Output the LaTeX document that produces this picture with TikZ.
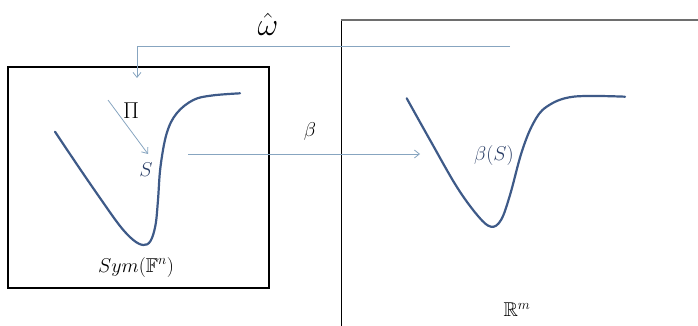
\RequirePackage{fix-cm}
\documentclass[tikz,border=0pt]{standalone}
\usepackage{amssymb}
\usetikzlibrary{arrows.meta}
\definecolor{curveblue}{RGB}{62,90,136}
\definecolor{arrowblue}{RGB}{135,165,192}
\definecolor{labelblue}{RGB}{42,62,102}
\definecolor{framegray}{RGB}{110,110,110}
\tikzset{
  curve/.style={line width=2.2pt, curveblue, line cap=round},
  conn/.style={line width=0.8pt, arrowblue, -{Straight Barb[length=5pt,width=8pt]}},
  lbl/.style={inner sep=0pt, font=\fontsize{20}{24}\selectfont},
}
\begin{document}
\begin{tikzpicture}[x=1pt,y=-1pt]
\useasboundingbox (0,0) rectangle (698,326);
% left box
\node[draw=black, line width=2.2pt, minimum width=261pt, minimum height=221pt, inner sep=0pt, anchor=north west] (box) at (7,66) {};
% right frame (cut off)
\coordinate (fTL) at (341,20);
\coordinate (fBL) at (341,326);
\coordinate (fTR) at (698,20);
\draw[line width=1pt, black] (fBL) -- (fTL);
\draw[line width=1.4pt, framegray] (fTL) -- (fTR);
% curves
\draw[curve] plot[smooth, tension=0.6] coordinates {(55,131.7) (78,166) (100,198) (120,226) (133.3,240) (143.3,245) (150.5,241) (155.5,225) (158,200) (160.5,166.7) (166.7,133.3) (176.7,113.3) (193.3,100) (212,95.5) (240,93.3)};
\draw[curve] plot[smooth, tension=0.6] coordinates {(406.7,98.3) (430,140) (456.7,186.7) (478,216) (491,226.7) (501,220) (510,195) (521.7,152) (533.3,123.3) (546.7,106.7) (573.3,96.7) (625,96.7)};
% labels
\node[lbl, font=\fontsize{32}{36}\selectfont] (omega) at (268,24) {$\hat{\omega}$};
\node[lbl, font=\fontsize{23}{26}\selectfont] (Pi) at (131,111) {$\Pi$};
\node[lbl, text=labelblue] (S) at (146,170) {$S$};
\node[lbl] (beta) at (310,131) {$\beta$};
\node[lbl, text=labelblue] (bS) at (494,155) {$\beta(S)$};
\node[lbl] (sym) at (136,267) {$Sym(\mathbb{F}^n)$};
\node[lbl] (Rm) at (517,310) {$\mathbb{R}^m$};
% connectors
\coordinate (wStart) at (510,46);
\coordinate (wEnd) at (137,78);
\draw[conn] (wStart) -| (wEnd);
\coordinate (pStart) at (108,100);
\coordinate (pEnd) at (148,154);
\draw[conn] (pStart) -- (pEnd);
\coordinate (bStart) at (188,154);
\coordinate (bEnd) at (420,154);
\draw[conn] (bStart) -- (bEnd);
\end{tikzpicture}
\end{document}
